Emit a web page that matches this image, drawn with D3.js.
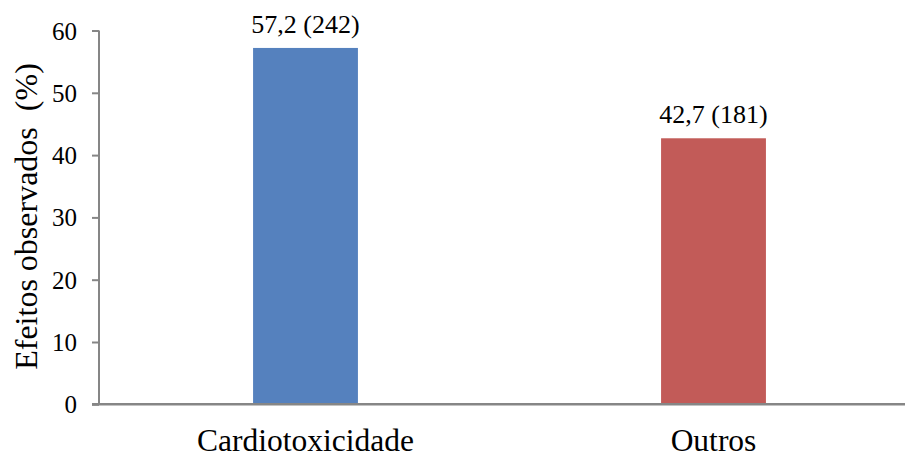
<!DOCTYPE html>
<html>
<head>
<meta charset="utf-8">
<script src="https://cdn.jsdelivr.net/npm/d3@7"></script>
<style>
  html, body { margin: 0; padding: 0; background: #fff; }
  svg { display: block; }
  text { font-family: "Liberation Serif", "Times New Roman", serif; fill: #000; }
</style>
</head>
<body>
<div id="chart"></div>
<script>
// Observed effects by category
const categories = ["Cardiotoxicidade", "Outros"];
const percentValues = [57.2, 42.7];
const counts = [242, 181];
const barColors = ["#5581be", "#c25b58"];
const yTicks = [0, 10, 20, 30, 40, 50, 60];

const width = 905, height = 457;
const svg = d3.select("#chart").append("svg")
  .attr("width", width).attr("height", height);

const axisX = 99;
const y = d3.scaleLinear().domain([0, 60]).range([404.3, 30.5]);
const x = d3.scaleBand().domain(categories).range([101.5, 917.5])
  .paddingInner(0.743).paddingOuter(0.3715);

// bars
svg.selectAll("rect.bar").data(categories).enter().append("rect")
  .attr("class", "bar")
  .attr("x", d => x(d))
  .attr("width", x.bandwidth())
  .attr("y", (d, i) => y(percentValues[i]))
  .attr("height", (d, i) => y(0) - y(percentValues[i]))
  .attr("fill", (d, i) => barColors[i]);

// value labels
const fmt = v => d3.format(".1f")(v).replace(".", ",");
svg.selectAll("text.val").data(categories).enter().append("text")
  .attr("class", "val")
  .attr("x", d => x(d) + x.bandwidth() / 2)
  .attr("y", (d, i) => y(percentValues[i]) - 15)
  .attr("text-anchor", "middle")
  .attr("font-size", 26)
  .text((d, i) => `${fmt(percentValues[i])} (${counts[i]})`);

// y axis
const yAxis = svg.append("g").attr("transform", `translate(${axisX},0)`)
  .call(d3.axisLeft(y).tickValues(yTicks).tickSize(7).tickPadding(15));
yAxis.select(".domain").attr("stroke", "#868686").attr("stroke-width", 2)
  .attr("d", `M0,${y(60)}V${y(0)}`);
yAxis.selectAll(".tick line").attr("stroke", "#868686").attr("stroke-width", 2);
yAxis.selectAll(".tick text")
  .attr("font-family", "Liberation Serif, Times New Roman, serif")
  .attr("font-size", 25).attr("fill", "#000").attr("dy", "0.34em");

// x axis baseline
svg.append("line")
  .attr("x1", axisX - 7).attr("x2", width)
  .attr("y1", y(0)).attr("y2", y(0))
  .attr("stroke", "#868686").attr("stroke-width", 2.5);

// category labels
svg.selectAll("text.cat").data(categories).enter().append("text")
  .attr("class", "cat")
  .attr("x", d => x(d) + x.bandwidth() / 2)
  .attr("y", 451)
  .attr("text-anchor", "middle")
  .attr("font-size", 31.5)
  .text(d => d);

// y axis title
svg.append("text")
  .attr("transform", "translate(37,216.5) rotate(-90)")
  .attr("text-anchor", "middle")
  .attr("font-size", 32)
  .attr("xml:space", "preserve")
  .style("white-space", "pre")
  .text("Efeitos observados  (%)");
</script>
</body>
</html>
